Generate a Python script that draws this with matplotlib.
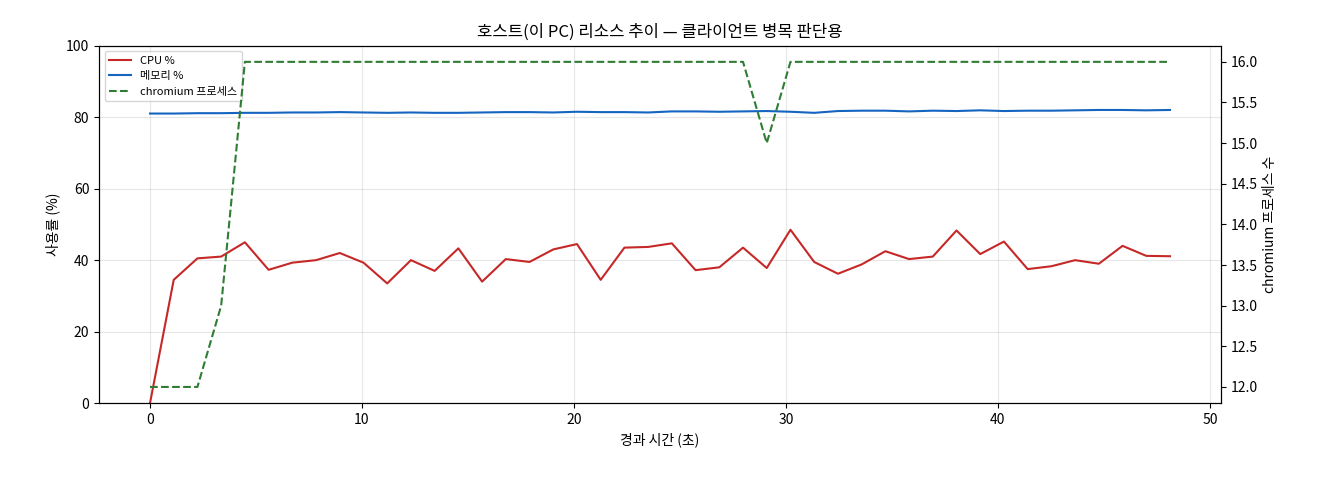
import numpy as np
import matplotlib
matplotlib.use("Agg")
import matplotlib.pyplot as plt

plt.rcParams['font.family'] = ['Noto Sans CJK KR', 'DejaVu Sans']

step = 1.119
cpu = [0, 34.5, 40.5, 41, 45, 37.3, 39.3, 40, 42, 39.3, 33.5, 40, 37, 43.3, 34, 40.3,
       39.5, 43, 44.5, 34.5, 43.5, 43.7, 44.7, 37.2, 38, 43.5, 37.8, 48.5, 39.5, 36.2,
       38.8, 42.5, 40.3, 41, 48.3, 41.7, 45.2, 37.5, 38.3, 40, 39, 44, 41.2, 41.1]
mem = [81.0, 81.0, 81.1, 81.1, 81.2, 81.2, 81.3, 81.3, 81.4, 81.3, 81.2, 81.3, 81.2, 81.2,
       81.3, 81.4, 81.4, 81.3, 81.5, 81.4, 81.4, 81.3, 81.6, 81.6, 81.5, 81.6, 81.7, 81.5,
       81.2, 81.7, 81.8, 81.8, 81.6, 81.8, 81.7, 81.9, 81.7, 81.8, 81.8, 81.9, 82.0, 82.0,
       81.9, 82.0]
chrom = [12, 12, 12, 13] + [16] * 22 + [15] + [16] * 17
t = np.arange(len(cpu)) * step

fig, ax = plt.subplots(figsize=(13.2, 4.8), dpi=100)
l1, = ax.plot(t, cpu, color='#c62828', lw=1.5, label='CPU %')
l2, = ax.plot(t, mem, color='#1565c0', lw=1.5, label='메모리 %')
ax.set_ylim(0, 100)
ax.set_xlabel('경과 시간 (초)')
ax.set_ylabel('사용률 (%)')
ax.grid(True, alpha=0.3)
ax2 = ax.twinx()
l3, = ax2.plot(t, chrom, color='#2e7d32', lw=1.5, ls='--', label='chromium 프로세스')
ax2.set_ylim(11.8, 16.2)
ax2.set_ylabel('chromium 프로세스 수')
ax.legend(handles=[l1, l2, l3], loc='upper left', fontsize=8)
ax.set_title('호스트(이 PC) 리소스 추이 — 클라이언트 병목 판단용')
fig.subplots_adjust(left=0.075, right=0.925, top=0.905, bottom=0.16)
fig.savefig('out.png')
